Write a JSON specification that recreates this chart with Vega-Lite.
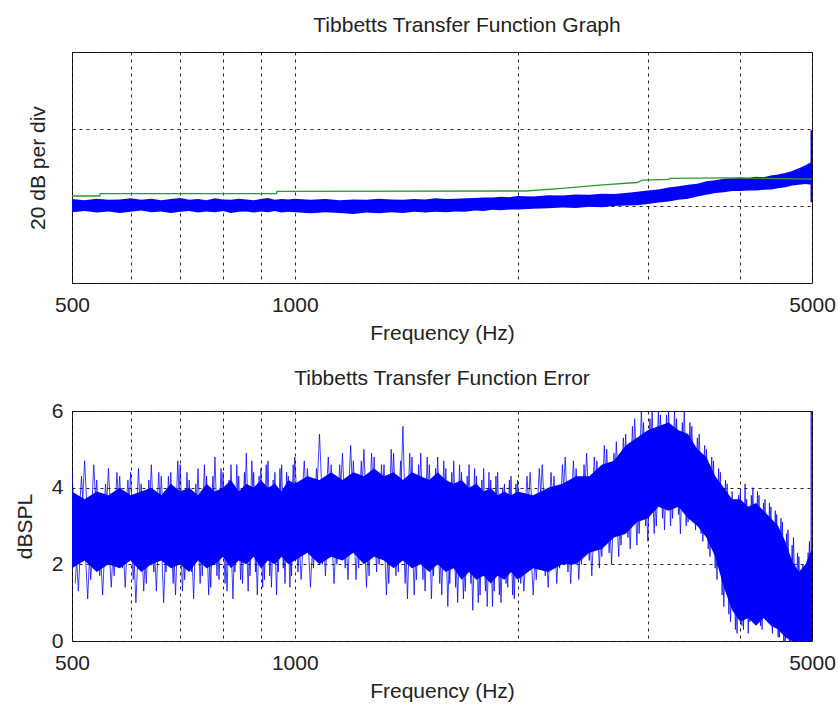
{
  "$schema": "https://vega.github.io/schema/vega-lite/v6.json",
  "background": "white",
  "padding": {"left": 13, "top": 14, "right": 4, "bottom": 2},
  "spacing": 23,
  "config": {
    "font": "Liberation Sans",
    "view": {"stroke": "#222", "strokeWidth": 1},
    "axis": {
      "grid": true, "gridColor": "#000", "gridDash": [3, 4], "gridWidth": 1, "gridOpacity": 0.85,
      "domain": false, "ticks": false,
      "labelFont": "Liberation Sans", "labelFontSize": 21, "labelColor": "#222",
      "titleFont": "Liberation Sans", "titleFontSize": 21, "titleFontWeight": "normal", "titleColor": "#222"
    },
    "title": {"font": "Liberation Sans", "fontSize": 21, "fontWeight": "normal", "color": "#222"}
  },
  "datasets": {
    "topBand": [
      {"f": 500, "lo": 18.4, "hi": 21.8}, {"f": 520, "lo": 18.7, "hi": 21.5}, {"f": 540, "lo": 18.3, "hi": 21.9},
      {"f": 560, "lo": 18.6, "hi": 21.6}, {"f": 580, "lo": 18.2, "hi": 21.7}, {"f": 600, "lo": 18.5, "hi": 22.0},
      {"f": 620, "lo": 18.8, "hi": 21.6}, {"f": 640, "lo": 18.4, "hi": 21.9}, {"f": 660, "lo": 18.6, "hi": 21.5},
      {"f": 680, "lo": 18.2, "hi": 21.8}, {"f": 700, "lo": 18.5, "hi": 22.1}, {"f": 720, "lo": 18.7, "hi": 21.6},
      {"f": 740, "lo": 18.3, "hi": 21.8}, {"f": 760, "lo": 18.6, "hi": 21.5}, {"f": 780, "lo": 18.4, "hi": 22.0},
      {"f": 800, "lo": 18.7, "hi": 21.7}, {"f": 820, "lo": 18.2, "hi": 21.6}, {"f": 840, "lo": 18.5, "hi": 21.9},
      {"f": 860, "lo": 18.6, "hi": 21.7}, {"f": 880, "lo": 18.3, "hi": 21.5}, {"f": 900, "lo": 18.6, "hi": 21.8},
      {"f": 920, "lo": 18.4, "hi": 22.1}, {"f": 940, "lo": 18.7, "hi": 21.6}, {"f": 960, "lo": 18.3, "hi": 21.8},
      {"f": 980, "lo": 18.5, "hi": 21.7}, {"f": 1000, "lo": 18.4, "hi": 21.9}, {"f": 1050, "lo": 18.1, "hi": 21.6},
      {"f": 1100, "lo": 18.4, "hi": 21.8}, {"f": 1150, "lo": 18.2, "hi": 21.5}, {"f": 1200, "lo": 17.9, "hi": 21.7},
      {"f": 1250, "lo": 18.3, "hi": 21.6}, {"f": 1300, "lo": 18.1, "hi": 21.9}, {"f": 1350, "lo": 18.4, "hi": 21.7},
      {"f": 1400, "lo": 18.2, "hi": 21.6}, {"f": 1450, "lo": 18.5, "hi": 21.8}, {"f": 1500, "lo": 18.3, "hi": 21.7},
      {"f": 1550, "lo": 18.5, "hi": 22.0}, {"f": 1600, "lo": 18.4, "hi": 21.8}, {"f": 1650, "lo": 18.6, "hi": 21.9},
      {"f": 1700, "lo": 18.5, "hi": 22.0}, {"f": 1750, "lo": 18.8, "hi": 22.1}, {"f": 1800, "lo": 18.7, "hi": 22.2},
      {"f": 1850, "lo": 19.0, "hi": 22.2}, {"f": 1900, "lo": 18.9, "hi": 22.4}, {"f": 1950, "lo": 19.1, "hi": 22.3},
      {"f": 2000, "lo": 19.1, "hi": 22.6}, {"f": 2100, "lo": 19.3, "hi": 22.5}, {"f": 2200, "lo": 19.4, "hi": 22.8},
      {"f": 2300, "lo": 19.6, "hi": 22.7}, {"f": 2400, "lo": 19.5, "hi": 23.0}, {"f": 2500, "lo": 19.8, "hi": 22.9},
      {"f": 2600, "lo": 19.7, "hi": 23.2}, {"f": 2700, "lo": 20.0, "hi": 23.1}, {"f": 2800, "lo": 20.1, "hi": 23.4},
      {"f": 2900, "lo": 20.2, "hi": 23.7}, {"f": 3000, "lo": 20.5, "hi": 24.0}, {"f": 3100, "lo": 20.9, "hi": 24.3},
      {"f": 3200, "lo": 21.2, "hi": 24.8}, {"f": 3300, "lo": 21.6, "hi": 25.1}, {"f": 3400, "lo": 21.9, "hi": 25.5},
      {"f": 3500, "lo": 22.5, "hi": 25.8}, {"f": 3600, "lo": 22.9, "hi": 26.4}, {"f": 3700, "lo": 23.4, "hi": 26.7},
      {"f": 3800, "lo": 23.6, "hi": 27.1}, {"f": 3900, "lo": 23.9, "hi": 27.2}, {"f": 4000, "lo": 23.9, "hi": 27.4},
      {"f": 4100, "lo": 24.0, "hi": 27.3}, {"f": 4200, "lo": 24.0, "hi": 27.6}, {"f": 4300, "lo": 24.2, "hi": 27.5},
      {"f": 4400, "lo": 24.3, "hi": 27.9}, {"f": 4500, "lo": 24.6, "hi": 28.2}, {"f": 4600, "lo": 24.9, "hi": 28.6},
      {"f": 4700, "lo": 25.3, "hi": 29.1}, {"f": 4800, "lo": 25.5, "hi": 29.8}, {"f": 4900, "lo": 25.7, "hi": 30.6},
      {"f": 4960, "lo": 25.6, "hi": 31.2}, {"f": 5000, "lo": 25.5, "hi": 31.4}
    ],
    "topSpike": [
      {"f": 5000, "v": 21.0}, {"f": 5000, "v": 39.7}
    ],
    "green": [
      {"f": 500, "v": 22.6}, {"f": 545, "v": 22.6}, {"f": 546, "v": 23.2}, {"f": 945, "v": 23.2}, {"f": 946, "v": 23.8},
      {"f": 2050, "v": 23.9}, {"f": 2300, "v": 24.6}, {"f": 2580, "v": 25.4}, {"f": 2900, "v": 26.1}, {"f": 2950, "v": 26.7},
      {"f": 3200, "v": 26.9}, {"f": 3210, "v": 27.2}, {"f": 3800, "v": 27.3}, {"f": 5000, "v": 27.0}
    ],
    "botCore": [
      {"f": 500, "lo": 1.9, "hi": 3.9}, {"f": 520, "lo": 2.1, "hi": 3.7}, {"f": 540, "lo": 1.8, "hi": 3.9},
      {"f": 560, "lo": 2.0, "hi": 3.8}, {"f": 580, "lo": 1.9, "hi": 4.0}, {"f": 600, "lo": 2.1, "hi": 3.8},
      {"f": 620, "lo": 1.8, "hi": 3.9}, {"f": 640, "lo": 2.0, "hi": 4.0}, {"f": 660, "lo": 2.1, "hi": 3.8},
      {"f": 680, "lo": 1.9, "hi": 4.1}, {"f": 700, "lo": 2.0, "hi": 3.9}, {"f": 720, "lo": 1.8, "hi": 4.0},
      {"f": 740, "lo": 2.1, "hi": 3.8}, {"f": 760, "lo": 1.9, "hi": 4.1}, {"f": 780, "lo": 2.0, "hi": 3.9},
      {"f": 800, "lo": 2.2, "hi": 4.0}, {"f": 820, "lo": 1.9, "hi": 4.2}, {"f": 840, "lo": 2.1, "hi": 3.9},
      {"f": 860, "lo": 2.0, "hi": 4.1}, {"f": 880, "lo": 2.2, "hi": 4.0}, {"f": 900, "lo": 1.9, "hi": 4.2},
      {"f": 920, "lo": 2.1, "hi": 4.0}, {"f": 940, "lo": 2.0, "hi": 4.1}, {"f": 960, "lo": 2.2, "hi": 3.9},
      {"f": 980, "lo": 2.0, "hi": 4.2}, {"f": 1000, "lo": 2.1, "hi": 4.1}, {"f": 1040, "lo": 2.3, "hi": 4.3},
      {"f": 1080, "lo": 2.0, "hi": 4.2}, {"f": 1120, "lo": 2.2, "hi": 4.4}, {"f": 1160, "lo": 2.1, "hi": 4.2},
      {"f": 1200, "lo": 2.3, "hi": 4.4}, {"f": 1240, "lo": 2.0, "hi": 4.3}, {"f": 1280, "lo": 2.2, "hi": 4.5},
      {"f": 1320, "lo": 2.1, "hi": 4.3}, {"f": 1360, "lo": 1.9, "hi": 4.4}, {"f": 1400, "lo": 2.1, "hi": 4.2},
      {"f": 1440, "lo": 1.9, "hi": 4.4}, {"f": 1480, "lo": 2.0, "hi": 4.3}, {"f": 1520, "lo": 1.8, "hi": 4.2},
      {"f": 1560, "lo": 2.0, "hi": 4.4}, {"f": 1600, "lo": 1.8, "hi": 4.2}, {"f": 1640, "lo": 1.9, "hi": 4.1},
      {"f": 1680, "lo": 1.6, "hi": 4.2}, {"f": 1720, "lo": 1.8, "hi": 4.0}, {"f": 1760, "lo": 1.6, "hi": 4.1},
      {"f": 1800, "lo": 1.7, "hi": 3.9}, {"f": 1840, "lo": 1.5, "hi": 4.0}, {"f": 1880, "lo": 1.7, "hi": 3.8},
      {"f": 1920, "lo": 1.6, "hi": 3.9}, {"f": 1960, "lo": 1.8, "hi": 3.8}, {"f": 2000, "lo": 1.6, "hi": 3.9},
      {"f": 2100, "lo": 1.9, "hi": 3.8}, {"f": 2200, "lo": 1.8, "hi": 4.0}, {"f": 2300, "lo": 2.0, "hi": 4.1},
      {"f": 2400, "lo": 2.0, "hi": 4.3}, {"f": 2500, "lo": 2.3, "hi": 4.3}, {"f": 2600, "lo": 2.4, "hi": 4.6},
      {"f": 2700, "lo": 2.7, "hi": 4.7}, {"f": 2800, "lo": 2.8, "hi": 5.1}, {"f": 2900, "lo": 3.1, "hi": 5.3},
      {"f": 3000, "lo": 3.2, "hi": 5.5}, {"f": 3100, "lo": 3.5, "hi": 5.6}, {"f": 3200, "lo": 3.4, "hi": 5.7},
      {"f": 3300, "lo": 3.5, "hi": 5.5}, {"f": 3400, "lo": 3.2, "hi": 5.4}, {"f": 3500, "lo": 3.0, "hi": 5.0},
      {"f": 3600, "lo": 2.7, "hi": 4.8}, {"f": 3700, "lo": 2.2, "hi": 4.3}, {"f": 3800, "lo": 1.4, "hi": 4.0},
      {"f": 3900, "lo": 0.8, "hi": 3.7}, {"f": 4000, "lo": 0.5, "hi": 3.7}, {"f": 4100, "lo": 0.6, "hi": 3.5},
      {"f": 4200, "lo": 0.4, "hi": 3.6}, {"f": 4300, "lo": 0.6, "hi": 3.4}, {"f": 4400, "lo": 0.4, "hi": 3.2},
      {"f": 4500, "lo": 0.3, "hi": 3.0}, {"f": 4600, "lo": 0.1, "hi": 2.6}, {"f": 4700, "lo": 0.0, "hi": 2.1},
      {"f": 4800, "lo": 0.0, "hi": 1.8}, {"f": 4900, "lo": 0.0, "hi": 2.0}, {"f": 5000, "lo": 0.0, "hi": 2.4}
    ],
    "botNoise": [
      {"f": 500, "v": 4.4}, {"f": 510, "v": 1.3}, {"f": 520, "v": 4.7}, {"f": 530, "v": 1.6}, {"f": 540, "v": 4.2},
      {"f": 550, "v": 1.2}, {"f": 560, "v": 4.5}, {"f": 570, "v": 1.7}, {"f": 580, "v": 4.3}, {"f": 590, "v": 1.4},
      {"f": 600, "v": 4.4}, {"f": 610, "v": 1.0}, {"f": 620, "v": 4.1}, {"f": 630, "v": 1.5}, {"f": 640, "v": 4.6},
      {"f": 650, "v": 1.3}, {"f": 660, "v": 4.3}, {"f": 670, "v": 1.8}, {"f": 680, "v": 4.4}, {"f": 690, "v": 1.2},
      {"f": 700, "v": 4.6}, {"f": 710, "v": 1.6}, {"f": 720, "v": 4.2}, {"f": 730, "v": 1.1}, {"f": 740, "v": 4.5},
      {"f": 750, "v": 1.7}, {"f": 760, "v": 4.3}, {"f": 770, "v": 1.4}, {"f": 780, "v": 4.8}, {"f": 790, "v": 1.6},
      {"f": 800, "v": 4.4}, {"f": 810, "v": 1.3}, {"f": 820, "v": 4.6}, {"f": 830, "v": 1.8}, {"f": 840, "v": 4.3},
      {"f": 850, "v": 1.5}, {"f": 860, "v": 4.9}, {"f": 870, "v": 1.7}, {"f": 880, "v": 4.4}, {"f": 890, "v": 1.2},
      {"f": 900, "v": 4.5}, {"f": 910, "v": 1.6}, {"f": 920, "v": 4.7}, {"f": 930, "v": 1.4}, {"f": 940, "v": 4.4},
      {"f": 950, "v": 1.8}, {"f": 960, "v": 4.6}, {"f": 970, "v": 1.5}, {"f": 980, "v": 4.3}, {"f": 990, "v": 1.7},
      {"f": 1000, "v": 4.8}, {"f": 1020, "v": 1.6}, {"f": 1040, "v": 4.5}, {"f": 1060, "v": 1.9}, {"f": 1080, "v": 5.4},
      {"f": 1100, "v": 1.7}, {"f": 1120, "v": 4.6}, {"f": 1140, "v": 2.0}, {"f": 1160, "v": 4.9}, {"f": 1180, "v": 1.6},
      {"f": 1200, "v": 4.7}, {"f": 1220, "v": 1.9}, {"f": 1240, "v": 5.0}, {"f": 1260, "v": 1.7}, {"f": 1280, "v": 4.8},
      {"f": 1300, "v": 2.0}, {"f": 1320, "v": 4.6}, {"f": 1340, "v": 1.5}, {"f": 1360, "v": 4.9}, {"f": 1380, "v": 1.8},
      {"f": 1400, "v": 5.6}, {"f": 1420, "v": 1.1}, {"f": 1440, "v": 4.8}, {"f": 1460, "v": 1.6}, {"f": 1480, "v": 4.9},
      {"f": 1500, "v": 1.3}, {"f": 1520, "v": 4.6}, {"f": 1540, "v": 1.7}, {"f": 1560, "v": 4.8}, {"f": 1580, "v": 1.2},
      {"f": 1600, "v": 4.5}, {"f": 1620, "v": 1.5}, {"f": 1640, "v": 4.7}, {"f": 1660, "v": 1.0}, {"f": 1680, "v": 4.4},
      {"f": 1700, "v": 1.3}, {"f": 1720, "v": 4.6}, {"f": 1740, "v": 0.8}, {"f": 1760, "v": 4.3}, {"f": 1780, "v": 1.2},
      {"f": 1800, "v": 4.5}, {"f": 1820, "v": 0.9}, {"f": 1840, "v": 4.2}, {"f": 1860, "v": 1.3}, {"f": 1880, "v": 4.4},
      {"f": 1900, "v": 1.0}, {"f": 1920, "v": 4.1}, {"f": 1940, "v": 1.4}, {"f": 1960, "v": 4.3}, {"f": 1980, "v": 1.1},
      {"f": 2000, "v": 4.2}, {"f": 2040, "v": 1.3}, {"f": 2080, "v": 4.4}, {"f": 2120, "v": 1.6}, {"f": 2160, "v": 4.6},
      {"f": 2200, "v": 1.4}, {"f": 2240, "v": 4.3}, {"f": 2280, "v": 1.9}, {"f": 2320, "v": 4.8}, {"f": 2360, "v": 1.5},
      {"f": 2400, "v": 4.5}, {"f": 2440, "v": 2.0}, {"f": 2480, "v": 4.9}, {"f": 2520, "v": 1.7}, {"f": 2560, "v": 4.7},
      {"f": 2600, "v": 2.2}, {"f": 2640, "v": 5.0}, {"f": 2680, "v": 2.0}, {"f": 2720, "v": 5.2}, {"f": 2760, "v": 2.5},
      {"f": 2800, "v": 5.4}, {"f": 2840, "v": 2.4}, {"f": 2880, "v": 5.8}, {"f": 2920, "v": 2.8}, {"f": 2960, "v": 5.7},
      {"f": 3000, "v": 2.6}, {"f": 3040, "v": 6.0}, {"f": 3080, "v": 3.0}, {"f": 3120, "v": 5.9}, {"f": 3160, "v": 2.9},
      {"f": 3200, "v": 6.0}, {"f": 3240, "v": 3.2}, {"f": 3280, "v": 5.8}, {"f": 3320, "v": 2.8}, {"f": 3360, "v": 6.0},
      {"f": 3400, "v": 3.1}, {"f": 3440, "v": 5.6}, {"f": 3480, "v": 2.9}, {"f": 3520, "v": 5.4}, {"f": 3560, "v": 2.6},
      {"f": 3600, "v": 5.0}, {"f": 3640, "v": 2.2}, {"f": 3680, "v": 4.7}, {"f": 3720, "v": 1.6}, {"f": 3760, "v": 4.4},
      {"f": 3800, "v": 0.9}, {"f": 3840, "v": 4.1}, {"f": 3880, "v": 0.5}, {"f": 3920, "v": 3.6}, {"f": 3960, "v": 0.2},
      {"f": 4000, "v": 3.9}, {"f": 4040, "v": 0.3}, {"f": 4080, "v": 3.7}, {"f": 4120, "v": 0.5}, {"f": 4160, "v": 4.0},
      {"f": 4200, "v": 0.6}, {"f": 4240, "v": 3.8}, {"f": 4280, "v": 0.3}, {"f": 4320, "v": 3.7}, {"f": 4360, "v": 0.7},
      {"f": 4400, "v": 3.5}, {"f": 4440, "v": 0.4}, {"f": 4480, "v": 3.3}, {"f": 4520, "v": 0.1}, {"f": 4560, "v": 3.1},
      {"f": 4600, "v": 0.0}, {"f": 4640, "v": 2.9}, {"f": 4680, "v": 0.0}, {"f": 4720, "v": 2.7}, {"f": 4760, "v": 0.0},
      {"f": 4800, "v": 2.2}, {"f": 4840, "v": 0.0}, {"f": 4880, "v": 1.9}, {"f": 4920, "v": 0.0}, {"f": 4960, "v": 2.6},
      {"f": 4990, "v": 0.0}
    ],
    "botNoise2": [
      {"f": 505, "v": 1.5}, {"f": 515, "v": 4.3}, {"f": 525, "v": 1.1}, {"f": 535, "v": 4.6}, {"f": 545, "v": 1.7},
      {"f": 555, "v": 4.1}, {"f": 565, "v": 1.4}, {"f": 575, "v": 4.4}, {"f": 585, "v": 1.9}, {"f": 595, "v": 4.2},
      {"f": 605, "v": 1.6}, {"f": 615, "v": 4.5}, {"f": 625, "v": 1.3}, {"f": 635, "v": 4.2}, {"f": 645, "v": 1.8},
      {"f": 655, "v": 4.4}, {"f": 665, "v": 1.0}, {"f": 675, "v": 4.3}, {"f": 685, "v": 1.5}, {"f": 695, "v": 4.7},
      {"f": 705, "v": 1.3}, {"f": 715, "v": 4.4}, {"f": 725, "v": 1.8}, {"f": 735, "v": 4.1}, {"f": 745, "v": 1.5},
      {"f": 755, "v": 4.6}, {"f": 765, "v": 1.2}, {"f": 775, "v": 4.3}, {"f": 785, "v": 1.7}, {"f": 795, "v": 4.5},
      {"f": 805, "v": 1.5}, {"f": 815, "v": 4.2}, {"f": 825, "v": 1.1}, {"f": 835, "v": 4.6}, {"f": 845, "v": 1.6},
      {"f": 855, "v": 4.4}, {"f": 865, "v": 1.3}, {"f": 875, "v": 4.7}, {"f": 885, "v": 1.8}, {"f": 895, "v": 4.3},
      {"f": 905, "v": 1.4}, {"f": 915, "v": 4.6}, {"f": 925, "v": 1.7}, {"f": 935, "v": 4.2}, {"f": 945, "v": 1.2},
      {"f": 955, "v": 4.5}, {"f": 965, "v": 1.9}, {"f": 975, "v": 4.4}, {"f": 985, "v": 1.4}, {"f": 995, "v": 4.6},
      {"f": 1010, "v": 1.8}, {"f": 1030, "v": 4.7}, {"f": 1050, "v": 1.4}, {"f": 1070, "v": 4.5}, {"f": 1090, "v": 2.0},
      {"f": 1110, "v": 4.8}, {"f": 1130, "v": 1.5}, {"f": 1150, "v": 4.6}, {"f": 1170, "v": 1.9}, {"f": 1190, "v": 5.1},
      {"f": 1210, "v": 1.6}, {"f": 1230, "v": 4.7}, {"f": 1250, "v": 1.4}, {"f": 1270, "v": 4.9}, {"f": 1290, "v": 1.8},
      {"f": 1310, "v": 4.6}, {"f": 1330, "v": 1.2}, {"f": 1350, "v": 5.0}, {"f": 1370, "v": 1.7}, {"f": 1390, "v": 4.7},
      {"f": 1410, "v": 1.5}, {"f": 1430, "v": 4.9}, {"f": 1450, "v": 1.2}, {"f": 1470, "v": 4.6}, {"f": 1490, "v": 1.6},
      {"f": 1510, "v": 4.8}, {"f": 1530, "v": 1.1}, {"f": 1550, "v": 4.5}, {"f": 1570, "v": 1.5}, {"f": 1590, "v": 4.7},
      {"f": 1610, "v": 0.9}, {"f": 1630, "v": 4.4}, {"f": 1650, "v": 1.4}, {"f": 1670, "v": 4.6}, {"f": 1690, "v": 1.1},
      {"f": 1710, "v": 4.3}, {"f": 1730, "v": 1.5}, {"f": 1750, "v": 4.5}, {"f": 1770, "v": 1.0}, {"f": 1790, "v": 4.2},
      {"f": 1810, "v": 1.3}, {"f": 1830, "v": 4.4}, {"f": 1850, "v": 0.9}, {"f": 1870, "v": 4.3}, {"f": 1890, "v": 1.2},
      {"f": 1910, "v": 4.0}, {"f": 1930, "v": 1.5}, {"f": 1950, "v": 4.2}, {"f": 1970, "v": 1.2}, {"f": 1990, "v": 4.1},
      {"f": 2020, "v": 1.5}, {"f": 2060, "v": 4.3}, {"f": 2100, "v": 1.2}, {"f": 2140, "v": 4.5}, {"f": 2180, "v": 1.7},
      {"f": 2220, "v": 4.4}, {"f": 2260, "v": 1.5}, {"f": 2300, "v": 4.6}, {"f": 2340, "v": 1.8}, {"f": 2380, "v": 4.7},
      {"f": 2420, "v": 1.6}, {"f": 2460, "v": 4.6}, {"f": 2500, "v": 2.1}, {"f": 2540, "v": 4.8}, {"f": 2580, "v": 1.9},
      {"f": 2620, "v": 5.1}, {"f": 2660, "v": 2.3}, {"f": 2700, "v": 4.9}, {"f": 2740, "v": 2.2}, {"f": 2780, "v": 5.3},
      {"f": 2820, "v": 2.7}, {"f": 2860, "v": 5.6}, {"f": 2900, "v": 2.5}, {"f": 2940, "v": 6.0}, {"f": 2980, "v": 3.0},
      {"f": 3020, "v": 5.8}, {"f": 3060, "v": 2.8}, {"f": 3100, "v": 6.0}, {"f": 3140, "v": 3.2}, {"f": 3180, "v": 5.9},
      {"f": 3220, "v": 3.0}, {"f": 3260, "v": 6.0}, {"f": 3300, "v": 3.3}, {"f": 3340, "v": 5.7}, {"f": 3380, "v": 3.0},
      {"f": 3420, "v": 5.7}, {"f": 3460, "v": 3.2}, {"f": 3500, "v": 5.3}, {"f": 3540, "v": 2.8}, {"f": 3580, "v": 5.1},
      {"f": 3620, "v": 2.4}, {"f": 3660, "v": 4.8}, {"f": 3700, "v": 1.9}, {"f": 3740, "v": 4.5}, {"f": 3780, "v": 1.2},
      {"f": 3820, "v": 4.2}, {"f": 3860, "v": 0.7}, {"f": 3900, "v": 3.9}, {"f": 3940, "v": 0.3}, {"f": 3980, "v": 3.8},
      {"f": 4020, "v": 0.4}, {"f": 4060, "v": 4.1}, {"f": 4100, "v": 0.2}, {"f": 4140, "v": 3.8}, {"f": 4180, "v": 0.5},
      {"f": 4220, "v": 3.9}, {"f": 4260, "v": 0.4}, {"f": 4300, "v": 3.6}, {"f": 4340, "v": 0.6}, {"f": 4380, "v": 3.6},
      {"f": 4420, "v": 0.2}, {"f": 4460, "v": 3.4}, {"f": 4500, "v": 0.1}, {"f": 4540, "v": 3.2}, {"f": 4580, "v": 0.0},
      {"f": 4620, "v": 2.8}, {"f": 4660, "v": 0.0}, {"f": 4700, "v": 2.5}, {"f": 4740, "v": 0.0}, {"f": 4780, "v": 2.3},
      {"f": 4820, "v": 0.0}, {"f": 4860, "v": 2.0}, {"f": 4900, "v": 0.0}, {"f": 4940, "v": 2.3}, {"f": 4980, "v": 0.0}
    ],
    "botSpike": [
      {"f": 5000, "v": 0.0}, {"f": 5000, "v": 6.0}
    ]
  },
  "vconcat": [
    {
      "width": 740,
      "height": 231,
      "title": {"text": "Tibbetts Transfer Function Graph", "dx": 25, "offset": 16},
      "layer": [
        {
          "data": {"name": "topBand"},
          "mark": {"type": "area", "color": "#0000ff", "clip": true},
          "encoding": {
            "x": {"field": "f", "type": "quantitative", "scale": {"type": "log", "domain": [500, 5000], "nice": false},
              "axis": {"title": "Frequency (Hz)", "values": [500, 600, 700, 800, 900, 1000, 2000, 3000, 4000, 5000],
                "format": "d", "labelExpr": "datum.value == 500 || datum.value == 1000 || datum.value == 5000 ? datum.label : ''",
                "labelFlush": false, "labelOverlap": false, "labelPadding": 11, "titlePadding": 7}},
            "y": {"field": "lo", "type": "quantitative", "scale": {"domain": [0, 60], "nice": false},
              "axis": {"title": "20 dB per div", "values": [0, 20, 40, 60], "labels": false, "titlePadding": 24}},
            "y2": {"field": "hi"}
          }
        },
        {
          "data": {"name": "topSpike"},
          "mark": {"type": "line", "color": "#0000ff", "strokeWidth": 3, "clip": true},
          "encoding": {
            "x": {"field": "f", "type": "quantitative"},
            "y": {"field": "v", "type": "quantitative"}
          }
        },
        {
          "data": {"name": "green"},
          "mark": {"type": "line", "color": "#2e9a2e", "strokeWidth": 1.3, "clip": true},
          "encoding": {
            "x": {"field": "f", "type": "quantitative"},
            "y": {"field": "v", "type": "quantitative"}
          }
        }
      ]
    },
    {
      "width": 740,
      "height": 230,
      "title": {"text": "Tibbetts Transfer Function Error", "offset": 11},
      "layer": [
        {
          "data": {"name": "botCore"},
          "mark": {"type": "area", "color": "#0000ff", "clip": true},
          "encoding": {
            "x": {"field": "f", "type": "quantitative", "scale": {"type": "log", "domain": [500, 5000], "nice": false},
              "axis": {"title": "Frequency (Hz)", "values": [500, 600, 700, 800, 900, 1000, 2000, 3000, 4000, 5000],
                "format": "d", "labelExpr": "datum.value == 500 || datum.value == 1000 || datum.value == 5000 ? datum.label : ''",
                "labelFlush": false, "labelOverlap": false, "labelPadding": 11, "titlePadding": 7}},
            "y": {"field": "lo", "type": "quantitative", "scale": {"domain": [0, 6], "nice": false},
              "axis": {"title": "dBSPL", "values": [0, 2, 4, 6], "labelPadding": 9, "titlePadding": 16}},
            "y2": {"field": "hi"}
          }
        },
        {
          "data": {"name": "botNoise"},
          "mark": {"type": "line", "color": "#0000ff", "strokeWidth": 1, "opacity": 0.75, "clip": true},
          "encoding": {
            "x": {"field": "f", "type": "quantitative"},
            "y": {"field": "v", "type": "quantitative"}
          }
        },
        {
          "data": {"name": "botNoise2"},
          "mark": {"type": "line", "color": "#0000ff", "strokeWidth": 1, "opacity": 0.75, "clip": true},
          "encoding": {
            "x": {"field": "f", "type": "quantitative"},
            "y": {"field": "v", "type": "quantitative"}
          }
        },
        {
          "data": {"name": "botSpike"},
          "mark": {"type": "line", "color": "#0000ff", "strokeWidth": 3, "opacity": 0.8, "clip": true},
          "encoding": {
            "x": {"field": "f", "type": "quantitative"},
            "y": {"field": "v", "type": "quantitative"}
          }
        }
      ]
    }
  ]
}
